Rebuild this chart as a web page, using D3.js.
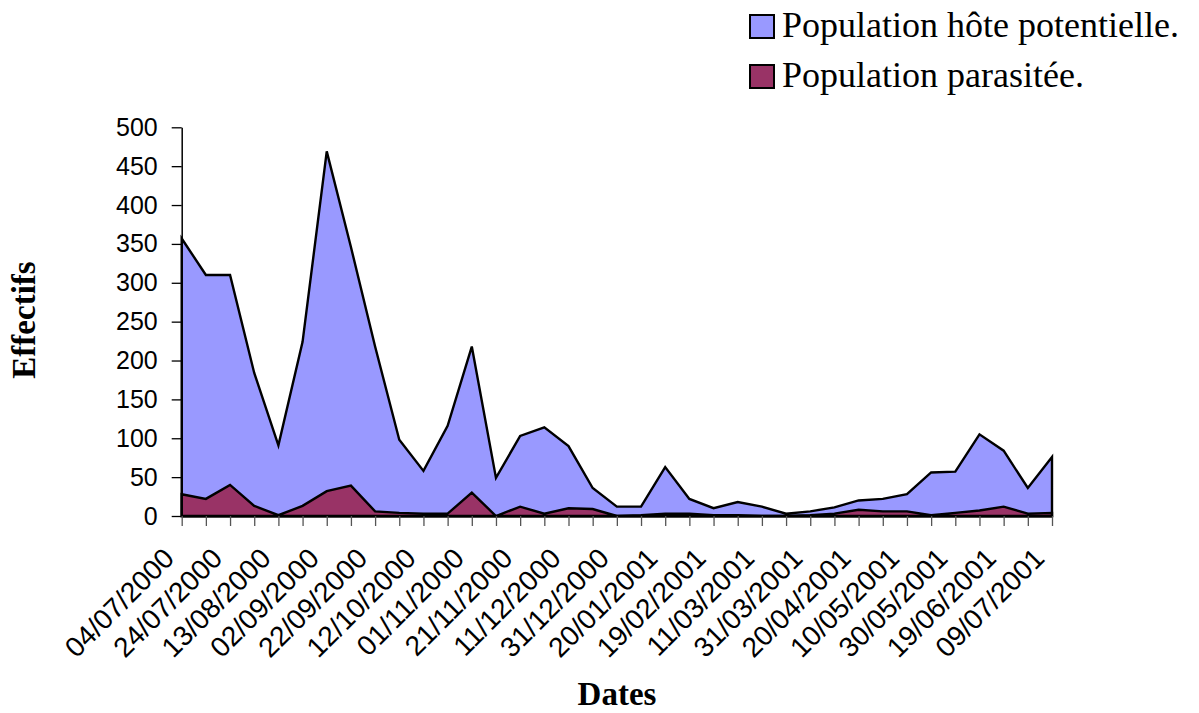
<!DOCTYPE html>
<html><head><meta charset="utf-8">
<script src="https://cdn.jsdelivr.net/npm/d3@7"></script>
<style>body{margin:0;background:#fff}</style>
</head><body>
<svg id="c" width="1199" height="713"></svg>
<script>
const categories = ["04/07/2000","14/07/2000","24/07/2000","03/08/2000","13/08/2000","23/08/2000","02/09/2000","12/09/2000","22/09/2000","02/10/2000","12/10/2000","22/10/2000","01/11/2000","11/11/2000","21/11/2000","01/12/2000","11/12/2000","21/12/2000","31/12/2000","10/01/2001","20/01/2001","04/02/2001","19/02/2001","01/03/2001","11/03/2001","21/03/2001","31/03/2001","10/04/2001","20/04/2001","30/04/2001","10/05/2001","20/05/2001","30/05/2001","09/06/2001","19/06/2001","29/06/2001","09/07/2001"];
const hote = [357,310,310,184,91,224,469,346,218,98,58,116,218,49,103,114,90,36,12,12,63,22,10,18,12,3,6,11,20,22,28,56,57,105,84,36,76];
const parasitee = [28,22,40,13,1,13,32,39,6,4,3,3,30,0,12,3,10,9,0,1,3,3,1,1,0,0,1,3,8,6,6,1,4,7,12,3,4];
const yTicks = [0,50,100,150,200,250,300,350,400,450,500];
const tickLabels = categories.filter((d,i)=>i%2===0);
const seriesNames = ["Population hôte potentielle.","Population parasitée."];
const colors = ["#9999FF","#993366"];

const svg = d3.select("#c");
const x = d3.scalePoint().domain(categories).range([181.7,1052]);
const y = d3.scaleLinear().domain([0,500]).range([516,127.3]);

const area = d3.area().x((d,i)=>x(categories[i])).y0(y(0)).y1(d=>y(d));
[hote, parasitee].forEach((s,k)=>{
  svg.append("path").datum(s).attr("d",area)
    .attr("fill",colors[k]).attr("stroke","#000").attr("stroke-width",2.4).attr("stroke-linejoin","miter");
});

// y axis
const ya = svg.append("g").attr("transform","translate(181.7,0)")
  .call(d3.axisLeft(y).tickValues(yTicks).tickSize(10).tickPadding(14).tickSizeOuter(0));
ya.select(".domain").attr("stroke","#000").attr("stroke-width",1.5);
ya.selectAll(".tick line").attr("stroke","#000").attr("stroke-width",1.3);
ya.selectAll("text").attr("font-family","'Liberation Sans',Arial,sans-serif").attr("font-size",25).attr("fill","#000");

// x axis
const xa = svg.append("g").attr("transform","translate(0,516)")
  .call(d3.axisBottom(x).tickSize(10).tickSizeOuter(0).tickFormat(()=>""));
xa.select(".domain").attr("stroke","#000").attr("stroke-width",2);
xa.selectAll(".tick line").attr("stroke","#555").attr("stroke-width",1.3);

svg.append("g").selectAll("text").data(tickLabels).join("text")
  .attr("transform",d=>`translate(${x(d)-6},560) rotate(-45)`)
  .attr("text-anchor","end")
  .attr("font-family","'Liberation Sans',Arial,sans-serif").attr("font-size",28).attr("fill","#000")
  .text(d=>d);

// axis titles
svg.append("text").attr("x",617).attr("y",705).attr("text-anchor","middle")
  .attr("font-family","'Liberation Serif','Times New Roman',serif").attr("font-weight","bold").attr("font-size",33)
  .text("Dates");
svg.append("text").attr("transform","translate(35,320) rotate(-90)").attr("text-anchor","middle")
  .attr("font-family","'Liberation Serif','Times New Roman',serif").attr("font-weight","bold").attr("font-size",33)
  .text("Effectifs");

// legend
const lg = svg.append("g");
seriesNames.forEach((n,k)=>{
  lg.append("rect").attr("x",750).attr("y",15+50*k).attr("width",24).attr("height",23)
    .attr("fill",colors[k]).attr("stroke","#000").attr("stroke-width",2);
  lg.append("text").attr("x",782).attr("y",37+50*k)
    .attr("font-family","'Liberation Serif','Times New Roman',serif").attr("font-size",36).attr("fill","#000")
    .text(n);
});
</script>
</body></html>
